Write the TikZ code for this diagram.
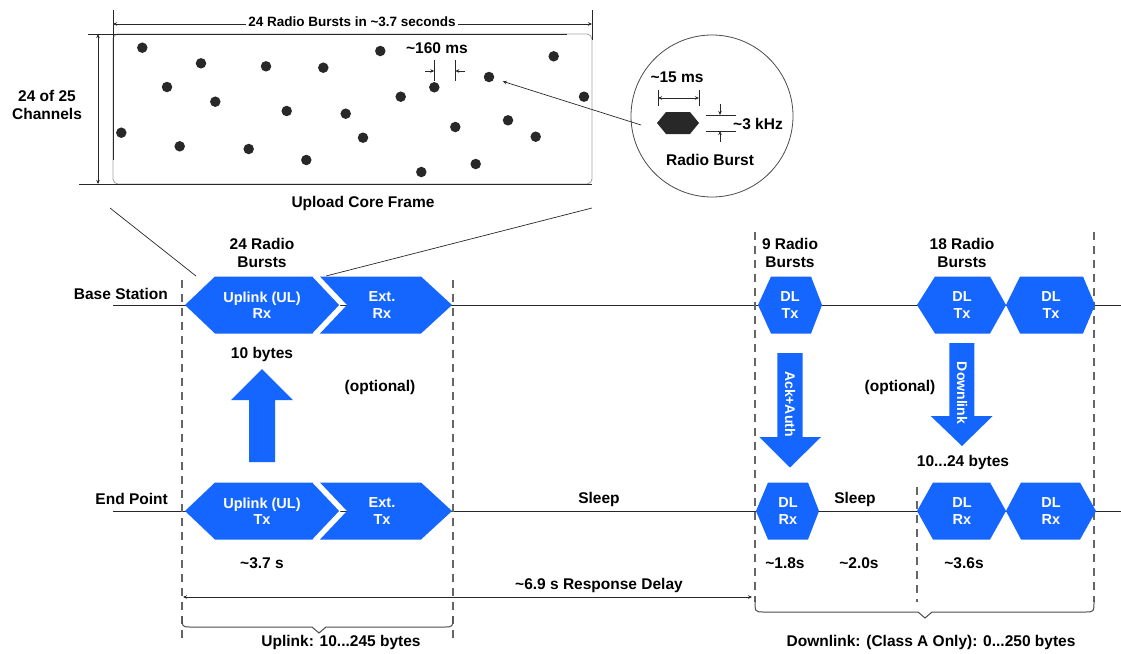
\documentclass[tikz,border=0pt]{standalone}
\usepackage{fontspec}
\setmainfont{Liberation Sans}
\usetikzlibrary{arrows.meta}
\definecolor{ulblue}{RGB}{21,101,255}
\definecolor{ink}{RGB}{40,40,40}
\newcommand\hexfill[6]{\fill[#6] (#1,#5) -- (#2,#5-28.5) -- (#3,#5-28.5) -- (#4,#5) -- (#3,#5+28.5) -- (#2,#5+28.5) -- cycle;}
\newcommand\extfill[5]{\fill[ulblue] (#1,#5-28.5) -- (#2,#5-28.5) -- (#3,#5) -- (#2,#5+28.5) -- (#1,#5+28.5) -- (#4,#5) -- cycle;}
\tikzset{
  lbl/.style={font=\fontsize{15.5}{18}\selectfont\bfseries, align=center, inner sep=0pt, text=black},
  toplbl/.style={font=\fontsize{13.5}{16}\selectfont\bfseries, align=center, inner sep=2pt, fill=white, text=black},
  hexlbl/.style={font=\fontsize{14.5}{16.5}\selectfont\bfseries, text=white, align=center, inner sep=0pt},
  rotlbl/.style={font=\fontsize{14}{16}\selectfont\bfseries, text=white, inner sep=0pt, rotate=-90},
  axis/.style={draw=ink, line width=1pt},
  vdash/.style={draw=black!60, line width=1.1pt, dash pattern=on 8pt off 6pt},
  dot/.style={circle, fill=ink, minimum size=10.5pt, inner sep=0pt},
  fineline/.style={draw=ink, line width=0.7pt},
  dim/.style={fineline, {Stealth[length=4pt,width=3.5pt]}-{Stealth[length=4pt,width=3.5pt]}},
  tip/.style={fineline, -{Stealth[length=4pt,width=3.5pt]}},
}
\begin{document}
\begin{tikzpicture}[x=1pt,y=-1pt]
\useasboundingbox (0,0) rectangle (1121,653);
\fill[white] (0,0) rectangle (1121,653);

% ---------- upload core frame ----------
\draw[draw=black!35, line width=0.9pt, rounded corners=5pt] (113,34) rectangle (592,184);
\draw[fineline] (113,10) -- (113,160);
\draw[fineline] (592,10) -- (592,40);
\draw[fineline] (88,34) -- (567,34);
\draw[fineline] (79,184) -- (592,184);
\coordinate (tl) at (113,24);
\coordinate (tr) at (592,24);
\draw[dim] (tl) -- (tr);
\node[toplbl] (toptxt) at (352,22) {24 Radio Bursts in \textasciitilde3.7 seconds};
\coordinate (vt) at (98,34);
\coordinate (vb) at (98,184);
\draw[dim] (vt) -- (vb);
\node[lbl] (chan) at (47,105) {24 of 25\\Channels};

\foreach \n/\x/\y in {1/142.3/47.7, 2/201/63.3, 3/266/66.3, 4/323.3/67.7, 5/380.3/51,
  6/167/87, 7/434.3/87.3, 8/489/77, 9/553.7/56.3, 10/584/96.7, 11/400.7/96.7,
  12/215.3/101.7, 13/286.7/111, 14/345.7/113.7, 15/121.3/132.7, 16/455.3/127,
  17/508/120.3, 18/535.7/136.7, 19/363/137.7, 20/179.7/146.3, 21/248.7/149,
  22/306.3/160, 23/421.3/172, 24/475.7/164}
  \node[dot] (d\n) at (\x,\y) {};

\node[lbl] (ms160) at (437,48) {\textasciitilde160 ms};
\coordinate (m1t) at (434.3,60); \coordinate (m1b) at (434.3,81);
\coordinate (m2t) at (455.3,60); \coordinate (m2b) at (455.3,81);
\draw[fineline] (m1t) -- (m1b);
\draw[fineline] (m2t) -- (m2b);
\coordinate (m1a) at (425,71); \coordinate (m1e) at (434.3,71);
\coordinate (m2a) at (465,71); \coordinate (m2e) at (455.3,71);
\draw[tip] (m1a) -- (m1e);
\draw[tip] (m2a) -- (m2e);

\node[lbl] (ucf) at (363,203) {Upload Core Frame};

% ---------- radio burst circle ----------
\node[circle, draw=black!70, line width=0.8pt, minimum size=162pt, inner sep=0pt] (bc) at (712,116) {};
\coordinate (ca) at (641,125);
\draw[tip, shorten >=9pt] (ca) -- (d8);
\fill[ink] (657,123) -- (666,112) -- (690,112) -- (699,123) -- (690,134) -- (666,134) -- cycle;
\node[lbl] (ms15) at (677,77) {\textasciitilde15 ms};
\coordinate (w1t) at (658,90); \coordinate (w1b) at (658,106);
\coordinate (w2t) at (699,90); \coordinate (w2b) at (699,106);
\draw[fineline] (w1t) -- (w1b);
\draw[fineline] (w2t) -- (w2b);
\coordinate (w1m) at (658,98); \coordinate (w2m) at (699,98);
\draw[dim] (w1m) -- (w2m);
\coordinate (h1l) at (706,115); \coordinate (h1r) at (736,115);
\coordinate (h2l) at (706,131); \coordinate (h2r) at (736,131);
\draw[fineline] (h1l) -- (h1r);
\draw[fineline] (h2l) -- (h2r);
\coordinate (k1a) at (720,104); \coordinate (k1e) at (720,115);
\coordinate (k2a) at (720,142); \coordinate (k2e) at (720,131);
\draw[tip] (k1a) -- (k1e);
\draw[tip] (k2a) -- (k2e);
\node[lbl] (khz) at (758,124) {\textasciitilde3 kHz};
\node[lbl] (rb) at (710,160) {Radio Burst};

% ---------- time lines ----------
\coordinate (bsl) at (113,305); \coordinate (bsr) at (1121,305);
\coordinate (epl) at (113,511); \coordinate (epr) at (1121,511);
\draw[axis] (bsl) -- (bsr);
\draw[axis] (epl) -- (epr);
\node[lbl, anchor=east] (bs) at (168,294) {Base Station};
\node[lbl, anchor=east] (ep) at (168,499) {End Point};

% dashed separators
\coordinate (a1) at (182,280); \coordinate (a2) at (182,642);
\coordinate (b1) at (453,280); \coordinate (b2) at (453,642);
\coordinate (c1) at (755,232); \coordinate (c2) at (755,602);
\coordinate (e1) at (1094,232); \coordinate (e2) at (1094,602);
\coordinate (f1) at (917,487); \coordinate (f2) at (917,602);
\draw[vdash] (a1) -- (a2);
\draw[vdash] (b1) -- (b2);
\draw[vdash] (c1) -- (c2);
\draw[vdash] (e1) -- (e2);
\draw[vdash] (f1) -- (f2);

% zoom lines
\coordinate (zl1) at (110,208); \coordinate (zl2) at (196,276);
\coordinate (zr1) at (592,208); \coordinate (zr2) at (326,276);
\draw[fineline] (zl1) -- (zl2);
\draw[fineline] (zr1) -- (zr2);

% ---------- uplink bursts ----------
\extfill{320}{421}{452}{347}{305}
\hexfill{185}{215}{313}{340}{305}{ulblue}
\draw[white, line width=1pt] (313,276.5) -- (340,305) -- (313,333.5);
\node[hexlbl] (ulrx) at (262,305) {Uplink (UL)\\Rx};
\node[hexlbl] (extrx) at (382,305) {Ext.\\Rx};

\extfill{320}{421}{452}{347}{511}
\hexfill{185}{215}{313}{340}{511}{ulblue}
\draw[white, line width=1pt] (313,482.5) -- (340,511) -- (313,539.5);
\node[hexlbl] (ultx) at (262,511) {Uplink (UL)\\Tx};
\node[hexlbl] (exttx) at (382,511) {Ext.\\Tx};

\node[lbl] (rb24) at (262,253) {24 Radio\\Bursts};
\node[lbl] (b10) at (262,354) {10 bytes};
\node[lbl] (opt1) at (380,387) {(optional)};
\fill[ulblue] (249,462) -- (249,400) -- (231,400) -- (262,369) -- (293,400) -- (275,400) -- (275,462) -- cycle;
\node[lbl] (t37) at (262,563) {\textasciitilde3.7 s};

% ---------- downlink bursts ----------
\hexfill{758}{771}{811}{822}{305}{ulblue}
\node[hexlbl] (dltx1) at (790,305) {DL\\Tx};
\hexfill{917}{935}{990}{1006}{305}{ulblue}
\hexfill{1006}{1020}{1083}{1095}{305}{ulblue}
\node[hexlbl] (dltx2) at (962,305) {DL\\Tx};
\node[hexlbl] (dltx3) at (1051,305) {DL\\Tx};
\node[lbl] (rb9) at (790,253) {9 Radio\\Bursts};
\node[lbl] (rb18) at (962,253) {18 Radio\\Bursts};

\hexfill{756}{768}{808}{819}{511}{ulblue}
\node[hexlbl] (dlrx1) at (788,511) {DL\\Rx};
\hexfill{917}{933}{990}{1006}{511}{ulblue}
\hexfill{1006}{1021}{1080}{1096}{511}{ulblue}
\node[hexlbl] (dlrx2) at (962,511) {DL\\Rx};
\node[hexlbl] (dlrx3) at (1051,511) {DL\\Rx};

\fill[ulblue] (777.3,353) -- (802.7,353) -- (802.7,437) -- (821,437) -- (790,467.5) -- (759.3,437) -- (777.3,437) -- cycle;
\node[rotlbl] (ack) at (790,404) {Ack+Auth};
\fill[ulblue] (949.3,343) -- (974.3,343) -- (974.3,416) -- (992.7,416) -- (962,446) -- (930.7,416) -- (949.3,416) -- cycle;
\node[rotlbl] (dlk) at (962,393) {Downlink};
\node[lbl] (opt2) at (900,387) {(optional)};
\node[lbl] (b1024) at (963,462) {10...24 bytes};

\node[lbl] (sl1) at (599,499) {Sleep};
\node[lbl] (sl2) at (855,499) {Sleep};
\node[lbl] (t18) at (785,563) {\textasciitilde1.8s};
\node[lbl] (t20) at (859,563) {\textasciitilde2.0s};
\node[lbl] (t36) at (964,563) {\textasciitilde3.6s};

% ---------- response delay ----------
\coordinate (rdl) at (183,597); \coordinate (rdr) at (752,597);
\draw[dim] (rdl) -- (rdr);
\node[lbl] (rd) at (599,585) {\textasciitilde6.9 s Response Delay};

% ---------- braces ----------
\draw[draw=black!70, line width=1pt] (182,616) .. controls (182,627) .. (191,627) -- (312,627) -- (319,633) -- (326,627) -- (444,627) .. controls (453,627) .. (453,616);
\draw[draw=black!70, line width=1pt] (755,600) .. controls (755,612) .. (764,612) -- (918,612) -- (925,618) -- (932,612) -- (1085,612) .. controls (1094,612) .. (1094,600);
\node[lbl] (ulb) at (341,642) {Uplink: 10...245 bytes};
\node[lbl] (dlb) at (931,642) {Downlink: (Class A Only): 0...250 bytes};
\end{tikzpicture}
\end{document}
